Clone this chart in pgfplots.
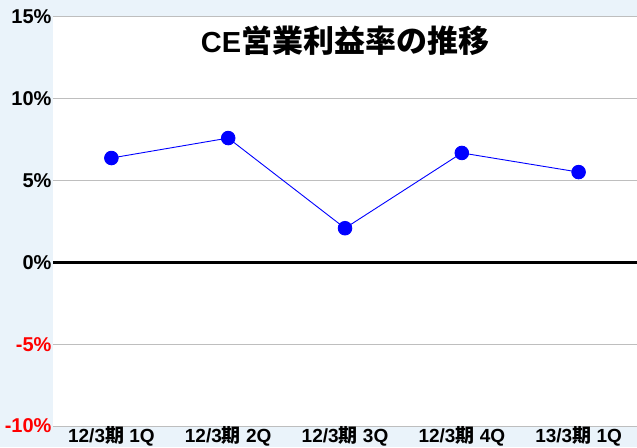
\documentclass[border=0pt]{standalone}
\usepackage{fontspec}
\setmainfont{Liberation Sans}
\newfontfamily\cjk{Noto Sans CJK JP}
\usepackage{pgfplots}
\pgfplotsset{compat=1.18}
\definecolor{bgblue}{RGB}{234,243,250}
\definecolor{gridgray}{RGB}{190,190,190}

\begin{document}
\begin{tikzpicture}[x=1pt,y=1pt]
  \path[use as bounding box, fill=bgblue] (-53,-21) rectangle (584,426);
  \begin{axis}[at={(0,0)},anchor=south west,
      scale only axis,width=584pt,height=409pt,
      axis background/.style={fill=white},
      axis line style={draw=none},tick style={draw=none},
      xmin=-0.5,xmax=4.5,ymin=-10,ymax=15,
      xtick={0,1,2,3,4},
      xticklabels={12/3{\cjk\bfseries 期} 1Q,12/3{\cjk\bfseries 期} 2Q,12/3{\cjk\bfseries 期} 3Q,12/3{\cjk\bfseries 期} 4Q,13/3{\cjk\bfseries 期} 1Q},
      ytick={-10,-5,0,5,10,15},
      yticklabels={\textcolor{red}{-10\%},\textcolor{red}{-5\%},0\%,5\%,10\%,15\%},
      ticklabel style={font=\fontsize{20}{20}\selectfont\bfseries},
      yticklabel style={xshift=2pt},
      xticklabel style={yshift=3.5pt,font=\fontsize{19}{19}\selectfont\bfseries},
      ymajorgrids,grid style={gridgray,line width=1pt},
      extra y ticks={0},extra y tick labels={},
      extra y tick style={grid style={black,line width=3pt}},
      clip=false]
    \addplot[blue,line width=0.9pt,mark=*,mark size=6.8pt,mark options={fill=blue,draw=blue}]
      coordinates {(0,6.38)(1,7.60)(2,2.09)(3,6.69)(4,5.52)};
    \node[font=\bfseries\fontsize{29}{29}\selectfont] at (rel axis cs:0.5,0.941)
      {CE{\cjk\bfseries\fontsize{31}{31}\selectfont 営業利益率の推移}};
  \end{axis}
\end{tikzpicture}
\end{document}
